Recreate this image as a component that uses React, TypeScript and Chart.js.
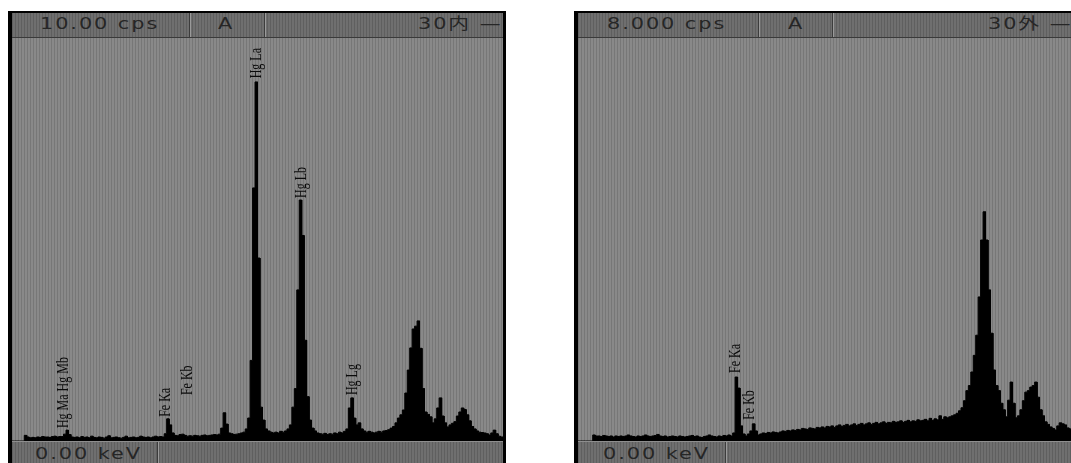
import React, { useEffect, useRef } from "react";
import { Chart, registerables } from "chart.js";

Chart.register(...registerables);

// ---------- data ----------
const CHANNEL_KEV = 0.1;

// left spectrum "30内" (cps per 0.1 keV channel, 0.0 .. 19.9 keV)
const leftCounts = [
  0, 0, 0, 0, 0, 0.14, 0.1, 0.08, 0.09, 0.08,
  0.1, 0.09, 0.11, 0.1, 0.1, 0.09, 0.11, 0.12, 0.1, 0.11,
  0.11, 0.17, 0.27, 0.16, 0.1, 0.09, 0.1, 0.08, 0.11, 0.09,
  0.1, 0.08, 0.12, 0.09, 0.08, 0.1, 0.09, 0.07, 0.1, 0.13,
  0.08, 0.09, 0.1, 0.08, 0.07, 0.09, 0.12, 0.08, 0.09, 0.1,
  0.08, 0.09, 0.12, 0.1, 0.09, 0.1, 0.08, 0.1, 0.12, 0.1,
  0.11, 0.1, 0.18, 0.55, 0.4, 0.2, 0.14, 0.13, 0.16, 0.17,
  0.14, 0.12, 0.13, 0.12, 0.14, 0.13, 0.12, 0.14, 0.15, 0.13,
  0.14, 0.15, 0.16, 0.15, 0.17, 0.32, 0.7, 0.42, 0.2, 0.18,
  0.16, 0.17, 0.18, 0.2, 0.22, 0.3, 0.57, 2.0, 6.28, 8.91,
  4.54, 0.84, 0.52, 0.3, 0.25, 0.22, 0.2, 0.22, 0.2, 0.24,
  0.22, 0.25, 0.3, 0.4, 0.84, 1.3, 3.75, 5.98, 5.1, 2.5,
  1.1, 0.52, 0.32, 0.25, 0.2, 0.18, 0.17, 0.19, 0.16, 0.18,
  0.17, 0.2, 0.18, 0.22, 0.2, 0.24, 0.3, 0.82, 1.07, 0.57,
  0.4, 0.45, 0.3, 0.25, 0.22, 0.24, 0.22, 0.2, 0.22, 0.24,
  0.22, 0.25, 0.26, 0.28, 0.32, 0.36, 0.45, 0.57, 0.65, 0.77,
  1.19, 1.76, 2.31, 2.78, 2.85, 2.98, 2.3, 1.3, 0.72, 0.66,
  0.6, 0.45, 0.55, 0.82, 1.07, 0.62, 0.45, 0.35, 0.4, 0.44,
  0.48, 0.62, 0.72, 0.82, 0.78, 0.65, 0.5, 0.36, 0.3, 0.25,
  0.22, 0.21, 0.2, 0.18, 0.15, 0.2, 0.27, 0.18, 0.12, 0.1,
];

// right spectrum "30外" (cps per 0.1 keV channel, 0.0 .. 20.1 keV)
const rightCounts = [
  0, 0, 0, 0, 0, 0, 0.12, 0.1, 0.1, 0.09,
  0.11, 0.1, 0.09, 0.1, 0.08, 0.1, 0.09, 0.1, 0.09, 0.1,
  0.12, 0.1, 0.09, 0.08, 0.1, 0.09, 0.1, 0.12, 0.1, 0.09,
  0.1, 0.11, 0.13, 0.1, 0.09, 0.1, 0.08, 0.09, 0.1, 0.09,
  0.08, 0.1, 0.09, 0.08, 0.09, 0.1, 0.11, 0.09, 0.1, 0.08,
  0.07, 0.09, 0.1, 0.12, 0.1, 0.09, 0.08, 0.1, 0.09, 0.11,
  0.1, 0.12, 0.1, 0.16, 1.27, 1.05, 0.3, 0.14, 0.1, 0.14,
  0.2, 0.34, 0.2, 0.12, 0.14, 0.16, 0.15, 0.17, 0.16, 0.18,
  0.17, 0.16, 0.18, 0.2, 0.19, 0.21, 0.2, 0.22, 0.21, 0.23,
  0.22, 0.25, 0.24, 0.23, 0.26, 0.25, 0.24, 0.27, 0.26, 0.28,
  0.26, 0.29, 0.28, 0.3, 0.27, 0.3, 0.32, 0.29, 0.31, 0.33,
  0.3, 0.32, 0.34, 0.31, 0.33, 0.35, 0.32, 0.34, 0.36, 0.33,
  0.35, 0.37, 0.34, 0.36, 0.38, 0.35, 0.37, 0.36, 0.39, 0.37,
  0.38, 0.4, 0.37, 0.39, 0.41, 0.38, 0.4, 0.39, 0.42, 0.4,
  0.41, 0.43, 0.4, 0.45, 0.41, 0.44, 0.42, 0.5, 0.43, 0.48,
  0.46, 0.48, 0.5, 0.52, 0.55, 0.6, 0.66, 0.8, 1.0, 1.1,
  1.37, 1.7, 2.1, 2.86, 3.99, 4.55, 3.99, 3.0, 2.14, 1.41,
  1.1, 1.0, 0.75, 0.62, 0.48, 0.81, 1.17, 0.75, 0.46, 0.5,
  0.62, 0.8, 0.97, 1.0, 1.07, 1.1, 1.17, 0.87, 0.62, 0.5,
  0.38, 0.33, 0.28, 0.25, 0.22, 0.3, 0.36, 0.34, 0.32, 0.26,
  0.24, 0.22,
];

const leftPeakLabels = ["Hg Ma Hg Mb", "Fe Ka", "Fe Kb", "Hg La", "Hg Lb", "Hg Lg"];
const leftPeakKeV = [2.08, 6.27, 7.13, 9.94, 11.81, 13.85];
const leftPeakCps = [0.32, 0.6, 1.14, 9.0, 6.03, 1.14];

const rightPeakLabels = ["Fe Ka", "Fe Kb"];
const rightPeakKeV = [6.4, 6.97];
const rightPeakCps = [1.35, 0.42];

const leftHeader = ["10.00 cps", "A", "30内 —"];
const rightHeader = ["8.000 cps", "A", "30外 —"];
const footerLabel = "0.00 keV";
const leftFullScale = 10;
const rightFullScale = 8;
const PX_PER_KEV = 24.55;

// ---------- plugins ----------
const stripePlugin = {
  id: "stripes",
  beforeDraw(chart: any) {
    const { ctx, chartArea: a } = chart;
    ctx.save();
    ctx.fillStyle = "#898989";
    ctx.fillRect(a.left, a.top, a.right - a.left, a.bottom - a.top);
    ctx.fillStyle = "#777777";
    for (let x = a.left; x < a.right; x += 3) ctx.fillRect(x, a.top, 1, a.bottom - a.top);
    ctx.restore();
  },
};

function makeLabelPlugin(texts: string[], kev: number[], cps: number[]) {
  return {
    id: "peakLabels",
    afterDatasetsDraw(chart: any) {
      const { ctx } = chart;
      const xs = chart.scales.x;
      const ys = chart.scales.y;
      ctx.save();
      ctx.fillStyle = "#0a0a0a";
      ctx.font = '15px "Liberation Serif", "DejaVu Serif", serif';
      ctx.textAlign = "left";
      ctx.textBaseline = "middle";
      texts.forEach((t, i) => {
        const x = xs.getPixelForValue(kev[i]);
        const y = ys.getPixelForValue(cps[i]);
        ctx.save();
        ctx.translate(x, y);
        ctx.rotate(-Math.PI / 2);
        ctx.scale(0.8, 1.15);
        ctx.fillText(t, 0, 0);
        ctx.restore();
      });
      ctx.restore();
    },
  };
}

type SpecProps = {
  counts: number[];
  fullScale: number;
  labels: string[];
  labelKeV: number[];
  labelCps: number[];
  left: number;
  top: number;
  width: number;
  height: number;
};

function Spectrum({ counts, fullScale, labels, labelKeV, labelCps, left, top, width, height }: SpecProps) {
  const ref = useRef<HTMLCanvasElement>(null);
  useEffect(() => {
    // histogram outline: each channel spans [i, i+1) * CHANNEL_KEV at its count
    const pts: { x: number; y: number }[] = [];
    counts.forEach((c, i) => {
      pts.push({ x: i * CHANNEL_KEV, y: c });
      pts.push({ x: (i + 1) * CHANNEL_KEV, y: c });
    });
    const chart = new Chart(ref.current as HTMLCanvasElement, {
      type: "line",
      data: {
        datasets: [
          {
            data: pts,
            fill: "origin",
            backgroundColor: "#000",
            borderColor: "#000",
            borderWidth: 1,
            pointRadius: 0,
            tension: 0,
          } as any,
        ],
      },
      options: {
        animation: false,
        responsive: false,
        devicePixelRatio: 1,
        events: [],
        layout: { padding: 0 },
        scales: {
          x: { type: "linear", min: 0, max: width / PX_PER_KEV, display: false },
          y: { type: "linear", min: 0, max: fullScale, display: false },
        },
        plugins: { legend: { display: false }, tooltip: { enabled: false } },
      },
      plugins: [stripePlugin, makeLabelPlugin(labels, labelKeV, labelCps)],
    });
    return () => chart.destroy();
  }, []);
  return (
    <canvas
      ref={ref}
      width={width}
      height={height}
      style={{ position: "absolute", left, top, width, height, display: "block" }}
    />
  );
}

const barBg =
  "repeating-linear-gradient(90deg, #5f5f5f 0px, #5f5f5f 1px, #6f6f6f 1px, #6f6f6f 3px)";

const textStyle: React.CSSProperties = {
  position: "absolute",
  fontFamily: '"DejaVu Sans", "Noto Sans CJK JP", sans-serif',
  fontSize: 16,
  lineHeight: "20px",
  letterSpacing: "1.5px",
  color: "#262626",
  whiteSpace: "nowrap",
  transform: "scaleX(1.3)",
  transformOrigin: "left center",
};

function Sep({ x, top, height }: { x: number; top: number; height: number }) {
  return (
    <>
      <div style={{ position: "absolute", left: x, top, width: 1, height, background: "#3c3c3c" }} />
      <div style={{ position: "absolute", left: x + 1, top, width: 1, height, background: "#9a9a9a" }} />
    </>
  );
}

type PanelProps = {
  x: number;
  outerWidth: number;
  plotWidth: number;
  header: string[];
  headerX: number[];
  sepX: number[];
  footerX: number;
  footerSepX: number;
  counts: number[];
  fullScale: number;
  labels: string[];
  labelKeV: number[];
  labelCps: number[];
};

function Panel(p: PanelProps) {
  const plotLeft = p.x + 4;
  return (
    <>
      <div style={{ position: "absolute", left: p.x, top: 11, width: p.outerWidth, height: 452, background: "#000" }} />
      <div
        style={{
          position: "absolute",
          left: plotLeft,
          top: 13,
          width: p.plotWidth,
          height: 24,
          background: barBg,
          borderBottom: "1px solid #3a3a3a",
        }}
      />
      <Sep x={p.sepX[0]} top={13} height={24} />
      <Sep x={p.sepX[1]} top={13} height={24} />
      {p.header.map((t, i) => (
        <span key={i} style={{ ...textStyle, left: p.headerX[i], top: 14 }}>
          {t}
        </span>
      ))}
      <Spectrum
        counts={p.counts}
        fullScale={p.fullScale}
        labels={p.labels}
        labelKeV={p.labelKeV}
        labelCps={p.labelCps}
        left={plotLeft}
        top={38}
        width={p.plotWidth}
        height={403}
      />
      <div
        style={{
          position: "absolute",
          left: plotLeft,
          top: 441,
          width: p.plotWidth,
          height: 22,
          background: barBg,
          borderTop: "1px solid #8e8e8e",
        }}
      />
      <Sep x={p.footerSepX} top={442} height={21} />
      <span style={{ ...textStyle, left: p.footerX, top: 444 }}>{footerLabel}</span>
    </>
  );
}

export default function App() {
  return (
    <div
      style={{
        position: "absolute",
        left: 0,
        top: 0,
        width: 1071,
        height: 463,
        overflow: "hidden",
        background: "#fff",
      }}
    >
      <Panel
        x={8}
        outerWidth={498}
        plotWidth={491}
        header={leftHeader}
        headerX={[40, 218, 418]}
        sepX={[189, 264]}
        footerX={35}
        footerSepX={157}
        counts={leftCounts}
        fullScale={leftFullScale}
        labels={leftPeakLabels}
        labelKeV={leftPeakKeV}
        labelCps={leftPeakCps}
      />
      <Panel
        x={574}
        outerWidth={502}
        plotWidth={495}
        header={rightHeader}
        headerX={[607, 788, 988]}
        sepX={[758, 832]}
        footerX={603}
        footerSepX={725}
        counts={rightCounts}
        fullScale={rightFullScale}
        labels={rightPeakLabels}
        labelKeV={rightPeakKeV}
        labelCps={rightPeakCps}
      />
    </div>
  );
}
